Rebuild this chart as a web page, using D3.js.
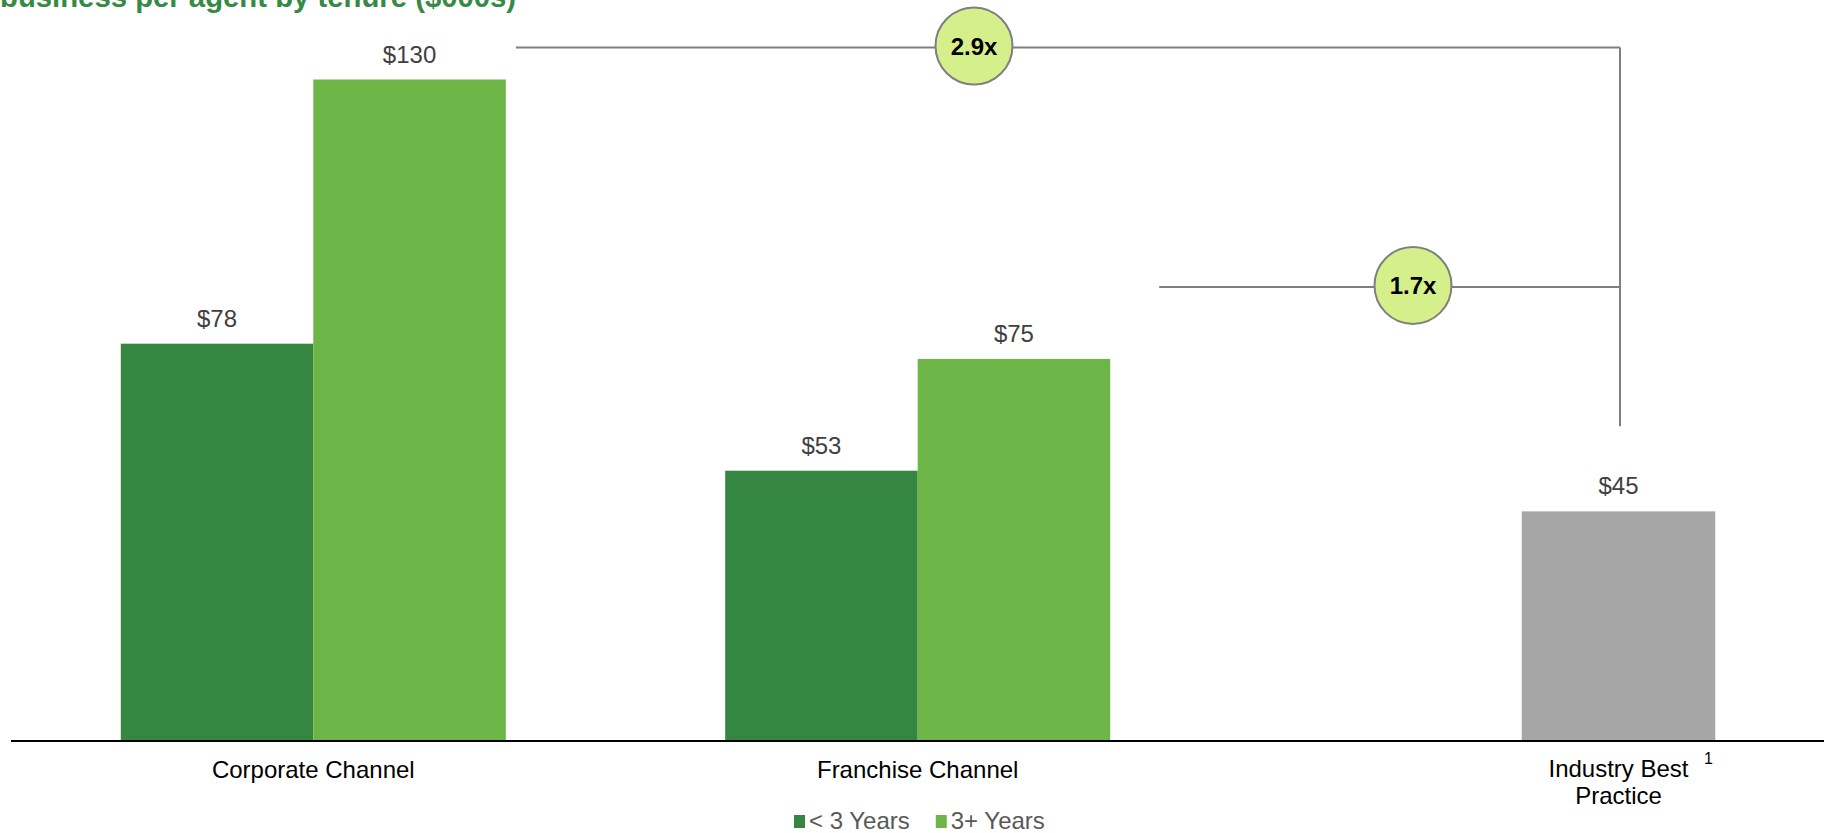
<!DOCTYPE html>
<html>
<head>
<meta charset="utf-8">
<script src="https://cdn.jsdelivr.net/npm/d3@7"></script>
<style>
  html, body { margin: 0; padding: 0; background: #fff; }
  svg { display: block; font-family: "Liberation Sans", Arial, sans-serif; }
</style>
</head>
<body>
<svg id="chart" width="1828" height="833"></svg>
<script>
// Channel data ($000s of new business per agent)
const channels = ["Corporate Channel", "Franchise Channel"];
const seriesNames = ["< 3 Years", "3+ Years"];
const underThree = [78, 53];
const threePlus = [130, 75];

// Industry benchmark
const benchmarkLabel = ["Industry Best", "Practice"];
const benchmarkValue = [45];

const titleText = "business per agent by tenure ($000s)";

const colors = { short: "#358641", long: "#6cb546", bench: "#a6a6a6" };

const svg = d3.select("#chart");

// Vertical scale
const y = d3.scaleLinear().domain([0, 130]).range([740, 79.5]);

// Horizontal scales: grouped channel panel, then the benchmark panel
const xGroup = d3.scaleBand().domain(channels)
  .range([12, 1219]).paddingInner(0.363).paddingOuter(0.18);
const xSeries = d3.scaleBand().domain(seriesNames).range([0, xGroup.bandwidth()]);
const xBench = d3.scaleBand().domain(["bench"]).range([1425, 1812]).paddingInner(0.5);

// Title (partially above the visible area)
svg.append("text")
  .attr("x", 0).attr("y", 7)
  .attr("font-size", 29.3).attr("font-weight", "bold")
  .attr("fill", "#368a46")
  .text(titleText);

// Grouped bars
const rows = channels.map((c, i) => ({ cat: c, vals: [underThree[i], threePlus[i]] }));
const groups = svg.selectAll("g.grp").data(rows).join("g")
  .attr("class", "grp")
  .attr("transform", d => `translate(${xGroup(d.cat)},0)`);

groups.selectAll("rect").data(d => d.vals.map((v, j) => ({ s: seriesNames[j], v })))
  .join("rect")
  .attr("x", d => xSeries(d.s))
  .attr("y", d => y(d.v))
  .attr("width", xSeries.bandwidth())
  .attr("height", d => y(0) - y(d.v))
  .attr("fill", (d, j) => j === 0 ? colors.short : colors.long);

groups.selectAll("text.val").data(d => d.vals.map((v, j) => ({ s: seriesNames[j], v })))
  .join("text")
  .attr("class", "val")
  .attr("x", d => xSeries(d.s) + xSeries.bandwidth() / 2)
  .attr("y", d => y(d.v) - 17)
  .attr("text-anchor", "middle")
  .attr("font-size", 24).attr("fill", "#404040")
  .text(d => "$" + d.v);

// Benchmark bar
const bx = xBench("bench"), bw = xBench.bandwidth();
svg.append("rect")
  .attr("x", bx).attr("y", y(benchmarkValue[0]))
  .attr("width", bw).attr("height", y(0) - y(benchmarkValue[0]))
  .attr("fill", colors.bench);
svg.append("text")
  .attr("x", bx + bw / 2).attr("y", y(benchmarkValue[0]) - 17)
  .attr("text-anchor", "middle").attr("font-size", 24).attr("fill", "#404040")
  .text("$" + benchmarkValue[0]);

// Baseline
svg.append("line")
  .attr("x1", 11).attr("x2", 1824).attr("y1", 741).attr("y2", 741)
  .attr("stroke", "#000").attr("stroke-width", 2);

// Category labels
channels.forEach(c => {
  svg.append("text")
    .attr("x", xGroup(c) + xGroup.bandwidth() / 2).attr("y", 778)
    .attr("text-anchor", "middle").attr("font-size", 24).attr("fill", "#000")
    .text(c);
});
const benchText = svg.append("text")
  .attr("text-anchor", "middle").attr("font-size", 24).attr("fill", "#000");
benchmarkLabel.forEach((t, i) => {
  benchText.append("tspan")
    .attr("x", bx + bw / 2).attr("y", 777 + i * 27).text(t);
});
svg.append("text")
  .attr("x", bx + bw / 2 + 90).attr("y", 764)
  .attr("text-anchor", "middle").attr("font-size", 16).attr("fill", "#000")
  .text("1");

// Multiple connectors against the benchmark
const benchX = bx + bw / 2 + 1.5;
const connectors = [
  { start: xGroup(channels[0]) + xGroup.bandwidth() + 10, yPos: y(d3.max(threePlus)) - 32,
    cx: 974, ratio: threePlus[0] / benchmarkValue[0] },
  { start: xGroup(channels[1]) + xGroup.bandwidth() + 49, yPos: y(threePlus[1]) - 72,
    cx: 1413, ratio: threePlus[1] / benchmarkValue[0] }
];
const connColor = "#7f7f7f";
svg.append("line")
  .attr("x1", benchX).attr("x2", benchX)
  .attr("y1", connectors[0].yPos).attr("y2", y(benchmarkValue[0]) - 85)
  .attr("stroke", connColor).attr("stroke-width", 2);
connectors.forEach(c => {
  svg.append("line")
    .attr("x1", c.start).attr("x2", benchX)
    .attr("y1", c.yPos).attr("y2", c.yPos)
    .attr("stroke", connColor).attr("stroke-width", 2);
});
connectors.forEach(c => {
  svg.append("circle")
    .attr("cx", c.cx).attr("cy", c.yPos - 1.5).attr("r", 38.5)
    .attr("fill", "#d5ef8a").attr("stroke", connColor).attr("stroke-width", 2);
  svg.append("text")
    .attr("x", c.cx).attr("y", c.yPos + 7)
    .attr("text-anchor", "middle").attr("font-size", 24).attr("font-weight", "bold")
    .attr("fill", "#000")
    .text(d3.format(".1f")(c.ratio) + "x");
});

// Legend
const legend = svg.append("g").attr("transform", "translate(794,0)");
let lx = 0;
seriesNames.forEach((s, i) => {
  legend.append("rect").attr("x", lx).attr("y", 815).attr("width", 11).attr("height", 13)
    .attr("fill", i === 0 ? colors.short : colors.long);
  const t = legend.append("text").attr("x", lx + 15).attr("y", 829)
    .attr("font-size", 24).attr("fill", "#595959").text(s);
  lx += 15 + t.node().getComputedTextLength() + 26;
});
</script>
</body>
</html>
